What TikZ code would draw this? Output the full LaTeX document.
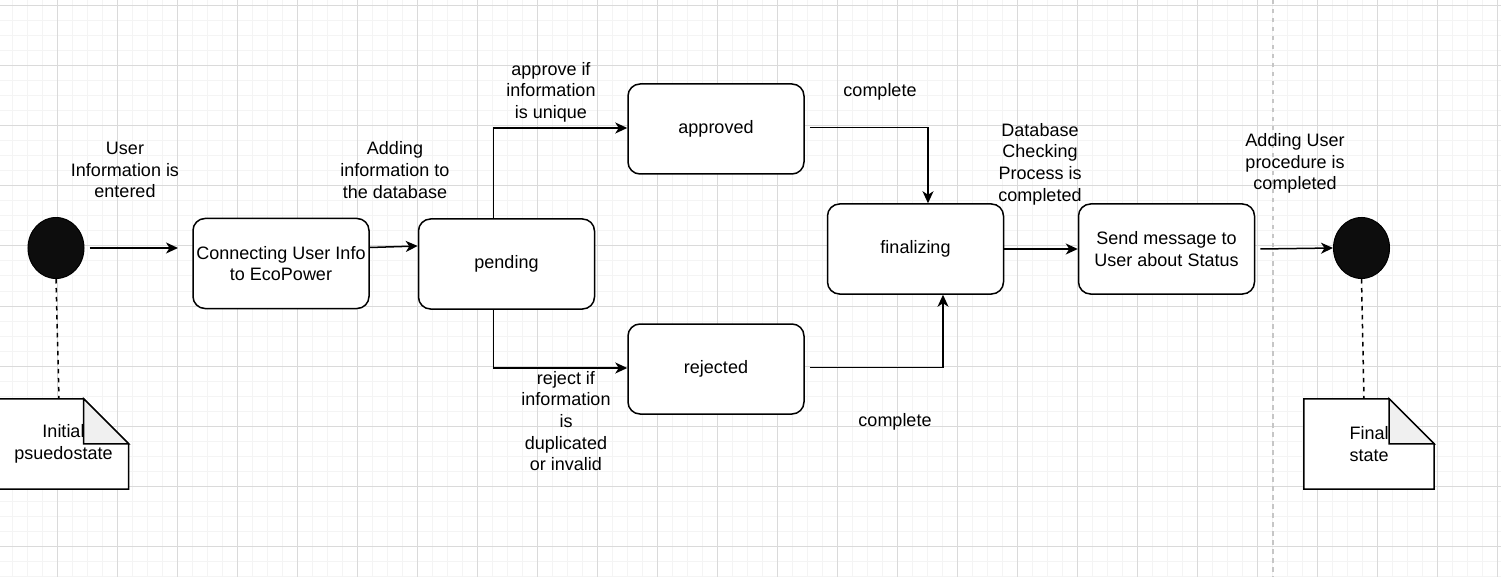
\documentclass[tikz,border=0pt]{standalone}
\usepackage{fontspec}
\setmainfont{Liberation Sans}
\usepackage{tikz}
\usetikzlibrary{shapes}
\usetikzlibrary{arrows.meta}
\usetikzlibrary{backgrounds}
\definecolor{gridmajor}{RGB}{218,218,218}
\definecolor{gridminor}{RGB}{244,244,244}
\definecolor{foldgray}{RGB}{240,240,240}
\definecolor{dotblack}{RGB}{13,13,13}
\tikzstyle{STATE} = [rectangle, rounded corners=12pt, minimum width=176pt, minimum height=90pt, inner sep=0pt, align=center, draw=black, 
line width=1.5pt, fill=white, font=\fontsize{18}{21.6}\selectfont]
\tikzstyle{DOT} = [ellipse, minimum width=56pt, minimum height=61pt, inner sep=0pt, draw=black, line width=1pt, fill=dotblack]
\tikzstyle{NOTE} = [rectangle, minimum width=130pt, minimum height=90pt, inner sep=0pt, align=center, font=\fontsize{18}{21.6}\selectfont]
\tikzstyle{NOTEEDGE} = [draw=black, line width=1.5pt, fill=white]
\tikzstyle{LABEL} = [align=center, inner sep=0pt, font=\fontsize{18}{21.6}\selectfont]
\tikzstyle{arrow} = [line width=1.5pt, -{Stealth[length=12pt,width=11pt,inset=3.5pt]}]
\tikzstyle{link} = [line width=1.5pt, dash pattern=on 4.5pt off 4.5pt]
\tikzstyle{lane} = [line width=1.5pt, gray!45, dash pattern=on 4.5pt off 4.5pt]

\begin{document}
\begin{tikzpicture}[x=1pt, y=-1pt]
  \useasboundingbox (0,0) rectangle (1501,577);
  \begin{scope}[on background layer]
    \fill[white] (0,0) rectangle (1501,577);
    \foreach \x in {12.5,27.5,...,1500} \draw[gridminor, line width=1pt] (\x,0) -- (\x,577);
    \foreach \y in {6,21,...,577} \draw[gridminor, line width=1pt] (0,\y) -- (1501,\y);
    \foreach \x in {57.5,117.5,...,1500} \draw[gridmajor, line width=1pt] (\x,0) -- (\x,577);
    \foreach \y in {6,66,...,577} \draw[gridmajor, line width=1pt] (0,\y) -- (1501,\y);
  \end{scope}
  \draw[lane] (1273,0) -- (1273,577);

  \node(start)[DOT] at (56,248) {};
  \node(connect)[STATE] at (281,263.5) {Connecting User Info\\to EcoPower};
  \node(pending)[STATE] at (506.5,264) {pending};
  \node(approved)[STATE] at (716,129) {approved};
  \node(rejected)[STATE] at (716,369) {rejected};
  \node(finalizing)[STATE] at (915.5,249) {finalizing};
  \node(sendmsg)[STATE] at (1166.5,249) {Send message to\\User about Status};
  \node(finish)[DOT] at (1361.5,248) {};
  \coordinate(startend) at (178,248);

  \node(initnote)[NOTE] at (63.5,444) {Initial\\psuedostate};
  \node(finalnote)[NOTE] at (1369,444) {Final\\state};
  \begin{scope}[on background layer]
    \foreach \n in {initnote,finalnote} {
      \draw[NOTEEDGE] (\n.north west) -- ([xshift=-45pt]\n.north east) -- ([yshift=-45pt]\n.north east)
        -- (\n.south east) -- (\n.south west) -- cycle;
      \draw[NOTEEDGE, fill=foldgray] ([xshift=-45pt]\n.north east) -- ([xshift=-45pt,yshift=-45pt]\n.north east)
        -- ([yshift=-45pt]\n.north east) -- cycle;
    }
  \end{scope}

  \node(userlbl)[LABEL] at (125,170) {User\\Information is\\entered};
  \node(addlbl)[LABEL] at (395,170) {Adding\\information to\\the database};
  \node(approvelbl)[LABEL] at (551,92) {approve if\\information\\is unique};
  \node(rejectlbl)[LABEL] at (566,421) {reject if\\information\\is\\duplicated\\or invalid};
  \node(donelbl1)[LABEL] at (880,92) {complete};
  \node(donelbl2)[LABEL] at (895,422) {complete};
  \node(dblbl)[LABEL] at (1040,164) {Database\\Checking\\Process is\\completed};
  \node(userdonelbl)[LABEL] at (1295,163.5) {Adding User\\procedure is\\completed};

  \draw[arrow] ([xshift=5pt]start.east) -- (startend);
  \draw[arrow] ([yshift=16pt]connect.east) -- ([yshift=18pt]pending.west);
  \draw[arrow] ([xshift=-13pt]pending.north) |- ([yshift=1pt]approved.west);
  \draw[arrow] ([xshift=-13pt]pending.south) |- ([yshift=1pt]rejected.west);
  \draw[arrow] ([xshift=5pt,yshift=1.5pt]approved.east) -| ([xshift=12.5pt]finalizing.north);
  \draw[arrow] ([xshift=5pt,yshift=1.5pt]rejected.east) -| ([xshift=27.5pt]finalizing.south);
  \draw[arrow] (finalizing.east) -- (sendmsg.west);
  \draw[arrow] ([xshift=5pt]sendmsg.east) -- (finish.west);
  \draw[link] (start.south) -- ([xshift=-4.5pt]initnote.north);
  \draw[link] (finish.south) -- ([xshift=-5pt]finalnote.north);

\end{tikzpicture}
\end{document}
